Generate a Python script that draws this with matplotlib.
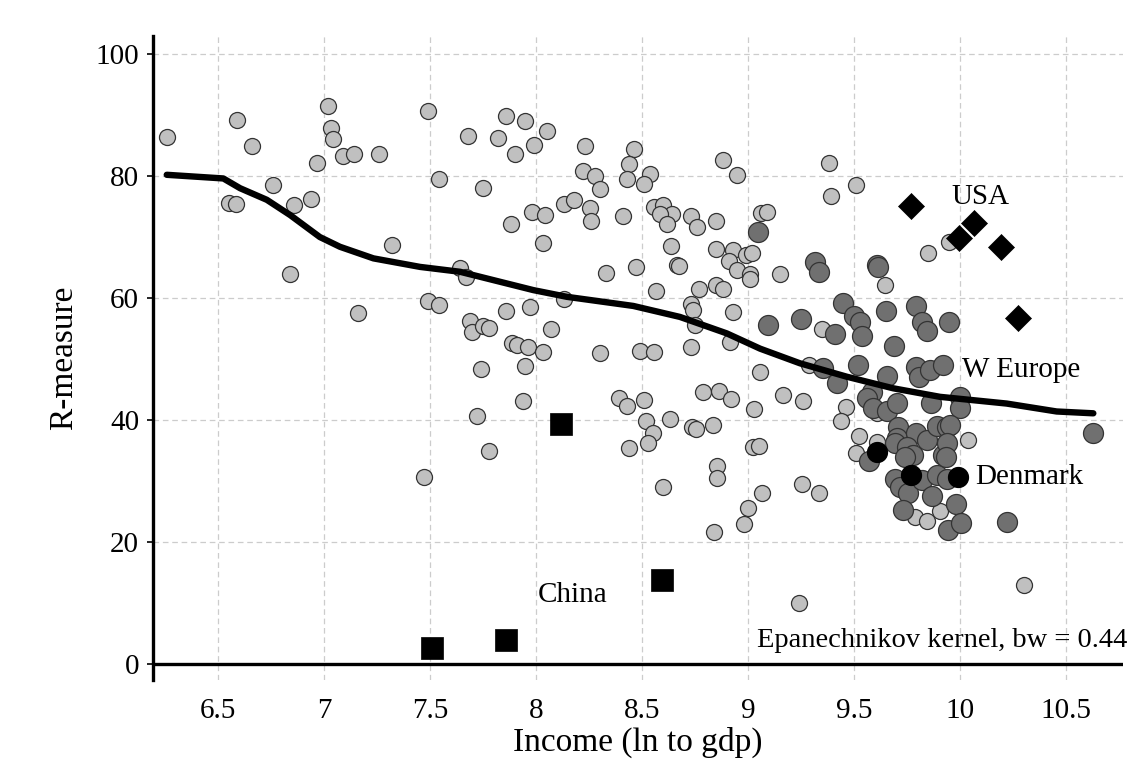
import matplotlib.pyplot as plt

# rest of the world (light grey circles)
rest_x = [6.26, 6.59, 6.66, 7.02, 7.035, 7.04, 7.09, 7.14, 7.26, 6.965, 6.76, 6.55, 6.585, 6.86, 6.94,
          7.32, 6.84, 7.16,
          7.49, 7.86, 7.95, 8.05, 7.68, 7.82, 7.99, 7.90, 8.23, 8.46, 8.44, 8.43, 8.54, 8.51, 8.22, 8.28,
          8.30, 7.54, 7.75, 8.13, 8.18, 8.255, 8.26, 7.98, 8.04, 7.88, 8.41, 8.557, 8.60, 8.64, 8.585,
          8.617, 8.035, 8.636, 8.664, 8.676, 7.64, 7.67, 8.33, 8.47, 8.566, 8.13, 7.49, 7.54, 7.86, 7.97,
          8.07, 7.69, 7.70, 7.75, 7.78,
          7.885, 7.91, 7.96, 8.035, 8.30, 8.49, 8.557, 7.74, 7.95, 7.94, 7.72, 7.78, 7.47, 8.39, 8.43,
          8.51, 8.52, 8.55, 8.53, 8.44, 8.63, 8.60,
          8.88, 8.95, 9.38, 9.51, 9.39, 9.85, 8.73, 8.76, 8.85, 9.06, 9.09, 8.85, 8.93, 8.91, 8.99, 9.02,
          8.95, 9.01, 9.01, 9.15, 9.645, 8.77, 8.85, 8.88, 8.73, 8.74, 8.75, 8.93, 8.73, 8.915, 9.35,
          9.29, 9.167, 9.26, 9.46, 9.44, 9.525, 9.51, 9.607, 9.61,
          9.057, 8.79, 8.865, 8.92, 9.03, 8.734, 8.755, 8.833, 9.025, 9.052, 8.852, 8.855, 9.253, 9.336,
          9.067, 9.001, 8.981, 8.840, 9.242,
          9.788, 9.846, 9.906, 10.039, 9.95, 10.30]
rest_y = [86.4, 89.2, 84.9, 91.4, 87.8, 86.0, 83.2, 83.6, 83.6, 82.1, 78.6, 75.6, 75.4, 75.2, 76.2,
          68.7, 63.9, 57.5,
          90.7, 89.9, 89.0, 87.4, 86.6, 86.3, 85.1, 83.6, 85.0, 84.5, 81.9, 79.5, 80.4, 78.7, 80.8, 80.0,
          77.9, 79.5, 78.1, 75.4, 76.0, 74.8, 72.7, 74.1, 73.6, 72.2, 73.4, 74.9, 75.3, 73.8, 73.8,
          72.2, 69.1, 68.6, 65.4, 65.3, 65.0, 63.4, 64.1, 65.1, 61.1, 59.8, 59.5, 58.8, 57.9, 58.5,
          54.9, 56.2, 54.4, 55.4, 55.1,
          52.6, 52.3, 52.0, 51.1, 51.0, 51.3, 51.1, 48.4, 48.9, 43.1, 40.7, 35.0, 30.7, 43.6, 42.3,
          43.3, 39.8, 37.8, 36.2, 35.4, 40.1, 29.0,
          82.7, 80.1, 82.1, 78.5, 76.7, 67.4, 73.4, 71.7, 72.6, 73.9, 74.1, 68.1, 67.8, 66.1, 67.0, 67.4,
          64.6, 63.9, 63.2, 63.9, 62.1, 61.4, 62.1, 61.5, 59.1, 58.1, 55.6, 57.7, 52.0, 52.8, 54.9,
          49.0, 44.1, 43.2, 42.2, 39.8, 37.3, 34.6, 36.4, 41.2,
          47.9, 44.6, 44.8, 43.4, 41.8, 38.9, 38.5, 39.2, 35.6, 35.8, 32.5, 30.5, 29.5, 28.1,
          28.0, 25.6, 23.0, 21.6, 10.0,
          24.1, 23.5, 25.1, 36.7, 69.2, 13.0]

# Western Europe (dark grey circles)
weu_x = [9.049, 9.317, 9.336, 9.607, 9.615, 9.448, 9.501, 9.528, 9.536, 9.651, 9.792, 9.819, 9.846,
         9.096, 9.249, 9.410, 9.69, 9.950, 9.52, 9.352, 9.418, 9.583, 9.656, 9.792, 9.808, 9.858,
         9.918, 9.563, 9.588, 9.654, 9.705, 9.862, 9.709, 9.701, 9.693, 9.792, 9.843, 9.890, 9.937,
         9.749, 9.780, 9.741, 9.693, 9.717, 9.756, 9.819, 9.890, 9.937, 9.866, 9.733, 9.921, 9.945,
         9.572, 10.0, 10.0, 9.953, 9.937, 9.934, 9.981, 10.003, 10.220, 10.629]
weu_y = [70.9, 65.9, 64.3, 65.4, 65.1, 59.2, 57.0, 56.1, 53.7, 57.9, 58.7, 56.1, 54.6,
         55.6, 56.5, 54.1, 52.1, 56.0, 49.1, 48.6, 46.0, 44.6, 47.2, 48.7, 47.1, 48.2,
         49.0, 43.6, 41.9, 41.4, 42.8, 42.8, 38.9, 37.0, 36.2, 37.9, 36.7, 39.0, 38.9,
         35.6, 34.3, 34.0, 30.3, 29.1, 28.0, 30.2, 31.0, 30.4, 27.5, 25.2, 34.3, 22.0,
         33.3, 43.8, 41.9, 39.2, 36.2, 34.0, 26.3, 23.1, 23.3, 37.9]

# Denmark (black circles)
den_x = [9.607, 9.769, 9.992]
den_y = [34.8, 31.0, 30.7]

# USA (black diamonds)
usa_x = [9.767, 9.995, 10.066, 10.192, 10.275]
usa_y = [75.1, 69.8, 72.3, 68.3, 56.8]

# China (black squares)
chn_x = [8.117, 7.511, 7.858, 8.593]
chn_y = [39.3, 2.6, 3.9, 13.8]

# kernel regression line
smooth_x = [6.258, 6.525, 6.604, 6.73, 6.84, 6.98, 7.075, 7.233, 7.453, 7.642, 7.987, 8.145,
            8.459, 8.679, 8.9, 9.057, 9.245, 9.466, 9.685, 9.906, 10.22, 10.456, 10.629]
smooth_y = [80.2, 79.6, 78.0, 76.1, 73.6, 70.0, 68.4, 66.5, 65.1, 64.3, 61.3, 60.2,
            58.7, 56.9, 54.2, 51.7, 49.3, 47.1, 45.2, 43.8, 42.7, 41.4, 41.1]

xticks = [6.5, 7, 7.5, 8, 8.5, 9, 9.5, 10, 10.5]
xtick_labels = ['6.5', '7', '7.5', '8', '8.5', '9', '9.5', '10', '10.5']
yticks = [0, 20, 40, 60, 80, 100]

plt.rcParams['font.family'] = ['Liberation Serif', 'DejaVu Serif']

fig = plt.figure(figsize=(11.34, 7.73), dpi=100)
ax = fig.add_axes([0.1349, 0.1203, 0.8554, 0.8331])

ax.scatter(rest_x, rest_y, s=133, facecolor='#c0c0c0', edgecolor='#333333', linewidth=0.9, zorder=3)
ax.scatter(weu_x, weu_y, s=207, facecolor='#707070', edgecolor='#333333', linewidth=0.9, zorder=4)
ax.plot(smooth_x, smooth_y, color='black', lw=4.6, solid_capstyle='round', solid_joinstyle='round', zorder=5)
ax.scatter(den_x, den_y, s=207, facecolor='black', edgecolor='black', linewidth=0.9, zorder=6)
ax.scatter(usa_x, usa_y, s=175, marker='D', facecolor='black', edgecolor='black', linewidth=0.5, zorder=6)
ax.scatter(chn_x, chn_y, s=229, marker='s', facecolor='black', edgecolor='black', linewidth=0.5, zorder=6)

ax.text(9.96, 76.6, 'USA', fontsize=21, va='center', ha='left', zorder=7)
ax.text(10.01, 48.2, 'W Europe', fontsize=21, va='center', ha='left', zorder=7)
ax.text(10.07, 30.7, 'Denmark', fontsize=21, va='center', ha='left', zorder=7)
ax.text(8.01, 11.3, 'China', fontsize=21, va='center', ha='left', zorder=7)
ax.text(10.79, 3.9, 'Epanechnikov kernel, bw = 0.44', fontsize=20.5, va='center', ha='right', zorder=7)

ax.set_xlim(6.193, 10.769)
ax.set_ylim(-2.62, 102.95)
ax.set_xticks(xticks)
ax.set_xticklabels(xtick_labels)
ax.set_yticks(yticks)

ax.grid(True, color='#cccccc', linestyle=(0, (4.5, 3)), linewidth=0.9, zorder=0)
ax.set_axisbelow(True)
ax.axhline(0, color='black', lw=2.4, zorder=2)

for side in ['top', 'right', 'bottom']:
    ax.spines[side].set_visible(False)
ax.spines['left'].set_linewidth(2.4)

ax.tick_params(axis='x', length=0, pad=13, labelsize=21)
ax.tick_params(axis='y', length=4, width=1.2, pad=6, labelsize=21)

ax.set_xlabel('Income (ln to gdp)', fontsize=24, labelpad=2)
ax.set_ylabel('R-measure', fontsize=24, labelpad=12)

fig.savefig('out.png', dpi=100)
